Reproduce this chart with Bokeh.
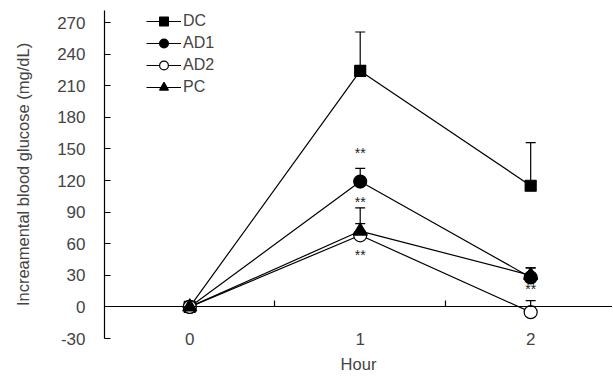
from bokeh.plotting import figure
from bokeh.models import (Range1d, FixedTicker, LinearAxis, Whisker, TeeHead,
                          ColumnDataSource, Legend, LegendItem)
from bokeh.core.properties import value
from bokeh.embed import file_html
from bokeh.resources import INLINE

# ---- data ----
hours = [0, 1, 2]
series_names = ["DC", "AD1", "AD2", "PC"]
dc_mean = [0, 224, 115]
dc_err = [0, 37, 41]
ad1_mean = [0, 119, 28]
ad1_err = [0, 12.5, 9]
ad2_mean = [0, 68, -5]
ad2_err = [0, 11, 11]
pc_mean = [0, 72, 30]
pc_err = [0, 22, 7]

y_ticks = [-30, 0, 30, 60, 90, 120, 150, 180, 210, 240, 270]
y_tick_labels = ["-30", "0", "30", "60", "90", "120", "150", "180", "210", "240", "270"]
x_ticks = [0, 1, 2]
x_minor_ticks = [0.5, 1.5]
y_title = "Increamental blood glucose (mg/dL)"
x_title = "Hour"

# significance marks: (hour, series, anchor)
sig_hour = [1, 1, 1, 2]
sig_series = ["AD1", "PC", "AD2", "AD1"]
sig_side = ["above", "above", "below", "below"]
sig_text = ["**", "**", "**", "**"]

FONT = "Liberation Sans"

p = figure(width=612, height=381, output_backend="svg", toolbar_location=None,
           x_range=Range1d(-0.5, 2.48), y_range=Range1d(-30, 281.4),
           x_axis_type=None, y_axis_type=None,
           min_border_left=104, min_border_right=0, min_border_top=10,
           min_border_bottom=43)
p.outline_line_color = None
p.grid.visible = False

# y axis
yax = LinearAxis(ticker=FixedTicker(ticks=y_ticks), axis_label=y_title)
yax.major_label_overrides = {t: l for t, l in zip(y_ticks, y_tick_labels)}
yax.major_tick_in = 6
yax.major_tick_out = 0
yax.minor_tick_line_color = None
yax.major_label_standoff = 19
yax.axis_label_standoff = 22
yax.major_label_text_font = FONT
yax.major_label_text_font_size = "17px"
yax.axis_label_text_font = FONT
yax.axis_label_text_font_size = "16.5px"
yax.axis_label_text_font_style = "normal"
yax.axis_line_width = 1.2
yax.major_tick_line_width = 1.2
p.add_layout(yax, "left")

# x axis labels (bottom)
xax = LinearAxis(ticker=FixedTicker(ticks=x_ticks), axis_label=x_title)
xax.axis_line_color = None
xax.major_tick_line_color = None
xax.minor_tick_line_color = None
xax.major_tick_in = 0
xax.major_tick_out = 0
xax.major_label_standoff = -6
xax.axis_label_standoff = 7
xax.major_label_text_font = FONT
xax.major_label_text_font_size = "17px"
xax.axis_label_text_font = FONT
xax.axis_label_text_font_size = "16.5px"
xax.axis_label_text_font_style = "normal"
p.add_layout(xax, "below")

# zero line axis with half-hour ticks
zax = LinearAxis(ticker=FixedTicker(ticks=x_minor_ticks), fixed_location=0)
zax.major_tick_in = 6
zax.major_tick_out = 0
zax.minor_tick_line_color = None
zax.major_label_standoff = 0
zax.major_label_text_font_size = "0px"
zax.major_label_text_color = None
zax.axis_line_width = 1.2
zax.major_tick_line_width = 1.2
p.add_layout(zax, "below")

means = {"DC": dc_mean, "AD1": ad1_mean, "AD2": ad2_mean, "PC": pc_mean}
errs = {"DC": dc_err, "AD1": ad1_err, "AD2": ad2_err, "PC": pc_err}
markers = {"DC": ("square", 11, "black"), "AD1": ("circle", 13, "black"),
           "AD2": ("circle", 13, "white"), "PC": ("triangle", 14, "black")}

# error bars (upper only)
for name in series_names:
    src = ColumnDataSource(dict(x=hours, y=means[name],
                                up=[m + e for m, e in zip(means[name], errs[name])]))
    w = Whisker(source=src, base="x", lower="y", upper="up", dimension="height",
                lower_head=None, upper_head=TeeHead(size=10, line_width=1.2),
                line_width=1.2, level="underlay")
    p.add_layout(w)

line_r = {}
for name in series_names:
    line_r[name] = p.line(hours, means[name], line_color="black", line_width=1.2)

scat_r = {}
for name in series_names:
    mk, sz, fc = markers[name]
    scat_r[name] = p.scatter(hours, means[name], marker=mk, size=sz,
                             fill_color=fc, line_color="black", line_width=1.2)

# significance marks (pixel offsets are styling)
sig_offsets = {("AD1", "above"): -15, ("PC", "above"): -6,
               ("AD2", "below"): 20, ("AD1", "below"): 12}
sx, sy, soff = [], [], []
for h, s, side in zip(sig_hour, sig_series, sig_side):
    i = hours.index(h)
    sx.append(h)
    if side == "above":
        sy.append(means[s][i] + errs[s][i])
    else:
        sy.append(means[s][i])
    soff.append(sig_offsets[(s, side)])
p.text(x=sx, y=sy, text=sig_text, y_offset=soff, text_align="center",
       text_baseline="middle", text_font=value(FONT), text_font_size="14px",
       text_color="#222222")

legend = Legend(items=[LegendItem(label=n, renderers=[line_r[n], scat_r[n]]) for n in series_names],
                location=(42, 240), orientation="vertical")
legend.glyph_width = 35
legend.glyph_height = 22
legend.label_height = 22
legend.spacing = 0
legend.padding = 0
legend.margin = 0
legend.label_standoff = 2
legend.border_line_color = None
legend.background_fill_alpha = 0
legend.label_text_font = FONT
legend.label_text_font_size = "16px"
p.add_layout(legend, "center")

open("out.html", "w").write(file_html(p, INLINE))
